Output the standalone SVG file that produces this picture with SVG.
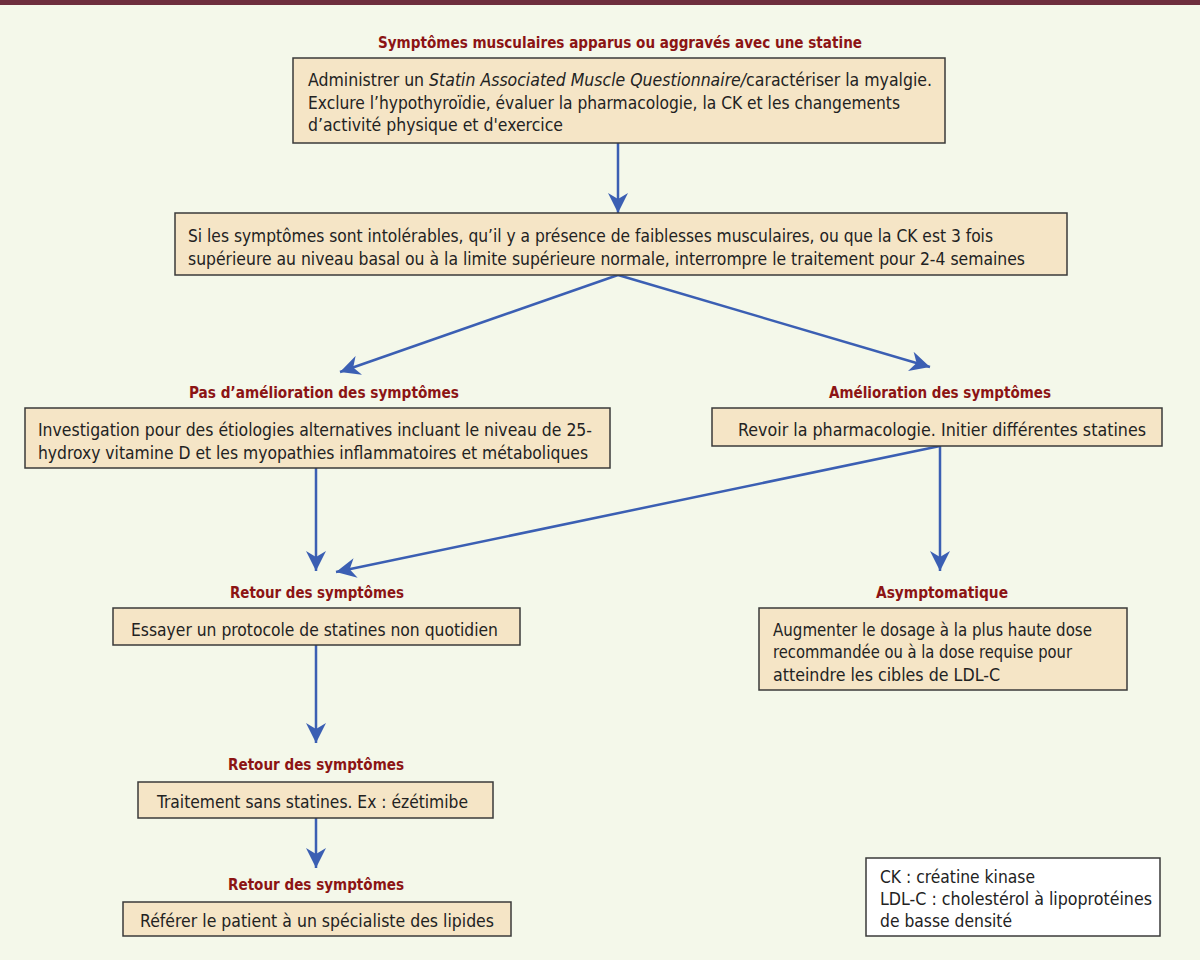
<svg xmlns="http://www.w3.org/2000/svg" width="1200" height="960" viewBox="0 0 1200 960">
<defs>
<style>
.box{fill:#f5e5c6;stroke:#3a3a3a;stroke-width:1.5}
.leg{fill:#ffffff;stroke:#3a3a3a;stroke-width:1.5}
.t{font-family:"Liberation Sans Narrow","DejaVu Sans Condensed","Liberation Sans",sans-serif;font-size:17px;fill:#222222}
.h{font-family:"Liberation Sans Narrow","DejaVu Sans Condensed","Liberation Sans",sans-serif;font-size:16.5px;font-weight:bold;fill:#8c1414;text-anchor:middle}
.c{stroke:#3b5fb3;stroke-width:2.5;fill:none}
</style>
<marker id="ah" viewBox="0 0 20 20" refX="20" refY="10" markerWidth="20" markerHeight="20" markerUnits="userSpaceOnUse" orient="auto">
<path d="M0,0 L20,10 L0,20 L6,10 Z" fill="#3b5fb3"/>
</marker>
</defs>
<rect x="0" y="0" width="1200" height="960" fill="#f4f8ea"/>
<rect x="0" y="0" width="1200" height="5" fill="#6e2f3e"/>

<g id="connectors">
<line class="c" x1="618" y1="143" x2="618" y2="213" marker-end="url(#ah)"/>
<line class="c" x1="618" y1="275" x2="340" y2="372" marker-end="url(#ah)"/>
<line class="c" x1="618" y1="275" x2="930" y2="367" marker-end="url(#ah)"/>
<line class="c" x1="316" y1="468" x2="316" y2="571" marker-end="url(#ah)"/>
<line class="c" x1="940" y1="446" x2="336" y2="572" marker-end="url(#ah)"/>
<line class="c" x1="940" y1="446" x2="940" y2="571" marker-end="url(#ah)"/>
<line class="c" x1="316" y1="645" x2="316" y2="743" marker-end="url(#ah)"/>
<line class="c" x1="316" y1="818" x2="316" y2="868" marker-end="url(#ah)"/>
</g>

<g id="n1">
<text class="h" x="620" y="48" textLength="484" lengthAdjust="spacingAndGlyphs">Symptômes musculaires apparus ou aggravés avec une statine</text>
<rect class="box" x="293" y="58" width="652" height="85"/>
<text class="t" x="308" y="86" textLength="624" lengthAdjust="spacingAndGlyphs">Administrer un <tspan font-style="italic">Statin Associated Muscle Questionnaire/</tspan>caractériser la myalgie.</text>
<text class="t" x="308" y="109" textLength="592" lengthAdjust="spacingAndGlyphs">Exclure l’hypothyroïdie, évaluer la pharmacologie, la CK et les changements</text>
<text class="t" x="308" y="131" textLength="255" lengthAdjust="spacingAndGlyphs">d’activité physique et d'exercice</text>
</g>

<g id="n2">
<rect class="box" x="175" y="213" width="892" height="62"/>
<text class="t" x="188" y="242" textLength="805" lengthAdjust="spacingAndGlyphs">Si les symptômes sont intolérables, qu’il y a présence de faiblesses musculaires, ou que la CK est 3 fois</text>
<text class="t" x="188" y="265" textLength="837" lengthAdjust="spacingAndGlyphs">supérieure au niveau basal ou à la limite supérieure normale, interrompre le traitement pour 2-4 semaines</text>
</g>

<g id="n3">
<text class="h" x="324" y="398" textLength="270" lengthAdjust="spacingAndGlyphs">Pas d’amélioration des symptômes</text>
<rect class="box" x="25" y="408" width="585" height="60"/>
<text class="t" x="38" y="436" textLength="554" lengthAdjust="spacingAndGlyphs">Investigation pour des étiologies alternatives incluant le niveau de 25-</text>
<text class="t" x="38" y="459" textLength="550" lengthAdjust="spacingAndGlyphs">hydroxy vitamine D et les myopathies inflammatoires et métaboliques</text>
</g>

<g id="n4">
<text class="h" x="940" y="398" textLength="222" lengthAdjust="spacingAndGlyphs">Amélioration des symptômes</text>
<rect class="box" x="712" y="408" width="450" height="38"/>
<text class="t" x="738" y="436" textLength="408" lengthAdjust="spacingAndGlyphs">Revoir la pharmacologie. Initier différentes statines</text>
</g>

<g id="n5">
<text class="h" x="317" y="598" textLength="174" lengthAdjust="spacingAndGlyphs">Retour des symptômes</text>
<rect class="box" x="113" y="608" width="407" height="37"/>
<text class="t" x="131" y="636" textLength="367" lengthAdjust="spacingAndGlyphs">Essayer un protocole de statines non quotidien</text>
</g>

<g id="n6">
<text class="h" x="942" y="598" textLength="132" lengthAdjust="spacingAndGlyphs">Asymptomatique</text>
<rect class="box" x="759" y="608" width="368" height="82"/>
<text class="t" x="773" y="636" textLength="319" lengthAdjust="spacingAndGlyphs">Augmenter le dosage à la plus haute dose</text>
<text class="t" x="773" y="658" textLength="299" lengthAdjust="spacingAndGlyphs">recommandée ou à la dose requise pour</text>
<text class="t" x="773" y="681" textLength="227" lengthAdjust="spacingAndGlyphs">atteindre les cibles de LDL-C</text>
</g>

<g id="n7">
<text class="h" x="316" y="770" textLength="176" lengthAdjust="spacingAndGlyphs">Retour des symptômes</text>
<rect class="box" x="138" y="782" width="355" height="36"/>
<text class="t" x="157" y="808" textLength="311" lengthAdjust="spacingAndGlyphs">Traitement sans statines. Ex : ézétimibe</text>
</g>

<g id="n8">
<text class="h" x="316" y="890" textLength="176" lengthAdjust="spacingAndGlyphs">Retour des symptômes</text>
<rect class="box" x="123" y="902" width="388" height="34"/>
<text class="t" x="140" y="927" textLength="354" lengthAdjust="spacingAndGlyphs">Référer le patient à un spécialiste des lipides</text>
</g>

<g id="legend">
<rect class="leg" x="866" y="858" width="294" height="78"/>
<text class="t" x="880" y="883" textLength="155" lengthAdjust="spacingAndGlyphs">CK : créatine kinase</text>
<text class="t" x="880" y="905" textLength="272" lengthAdjust="spacingAndGlyphs">LDL-C : cholestérol à lipoprotéines</text>
<text class="t" x="880" y="927" textLength="132" lengthAdjust="spacingAndGlyphs">de basse densité</text>
</g>
</svg>
